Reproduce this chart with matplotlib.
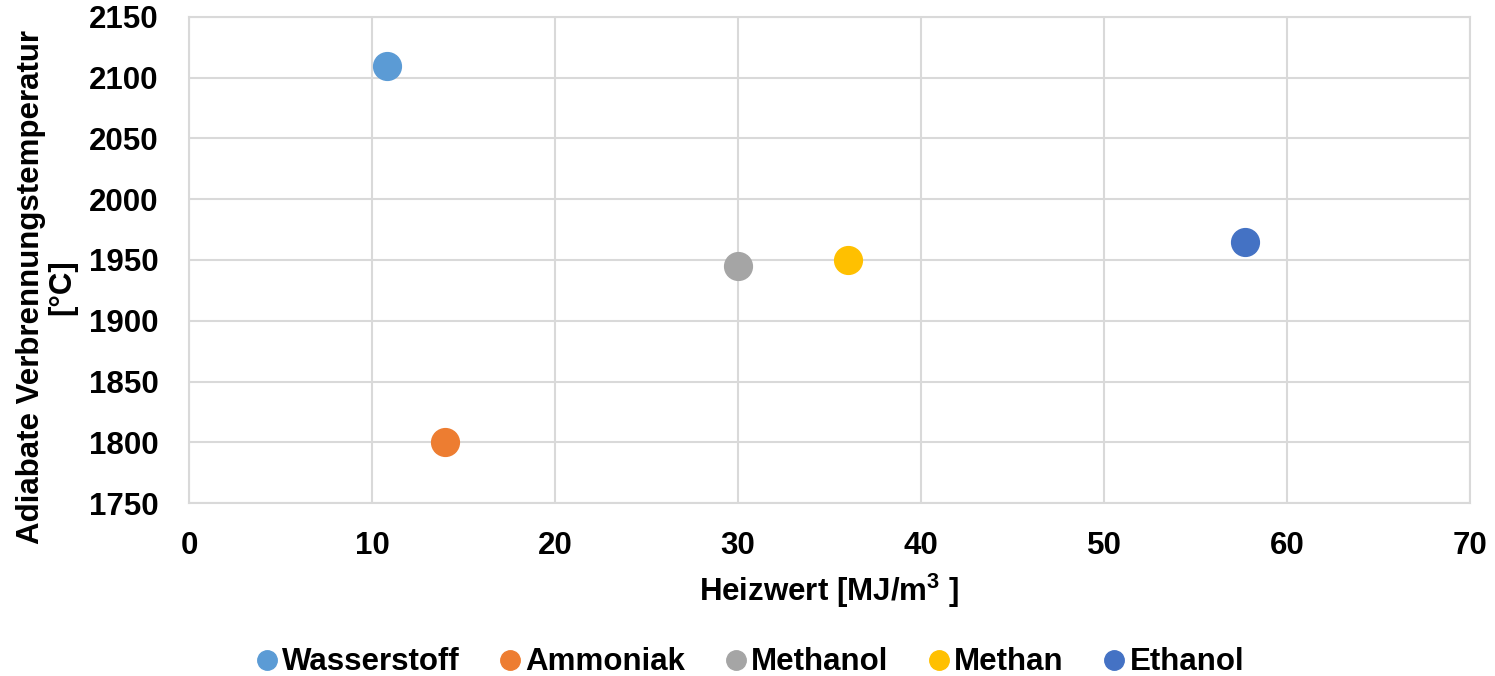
import matplotlib.pyplot as plt
from matplotlib.lines import Line2D

plt.rcParams['font.family'] = ['Liberation Sans', 'DejaVu Sans']
plt.rcParams['font.weight'] = 'bold'
plt.rcParams['axes.labelweight'] = 'bold'
plt.rcParams['mathtext.fontset'] = 'custom'
plt.rcParams['mathtext.bf'] = 'Liberation Sans:bold'
plt.rcParams['mathtext.rm'] = 'Liberation Sans:bold'
plt.rcParams['mathtext.default'] = 'bf'

# Brennstoffe: Heizwert [MJ/m3] und adiabate Verbrennungstemperatur [°C]
fuels = ['Wasserstoff', 'Ammoniak', 'Methanol', 'Methan', 'Ethanol']
heizwert = [10.8, 14.0, 30.0, 36.0, 57.7]
temperatur = [2110, 1800, 1945, 1950, 1965]
colors = ['#5B9BD5', '#ED7D31', '#A5A5A5', '#FFC000', '#4472C4']

fig = plt.figure(figsize=(14.95, 6.76), dpi=100)
ax = fig.add_axes([0.1264, 0.2559, 0.8569, 0.7190])

for name, x, y, c in zip(fuels, heizwert, temperatur, colors):
    ax.plot(x, y, 'o', ms=20, color=c, mec=c, label=name, zorder=3)

ax.set_xlim(0, 70)
ax.set_ylim(1750, 2150)
ax.set_xticks(range(0, 71, 10))
ax.set_yticks(range(1750, 2151, 50))
ax.grid(True, color='#d9d9d9', lw=1.5, zorder=0)
for s in ax.spines.values():
    s.set_color('#d9d9d9')
    s.set_linewidth(1.5)
ax.tick_params(length=0, labelsize=22.5)
ax.tick_params(axis='x', pad=20)
ax.tick_params(axis='y', pad=22)

ax.set_xlabel('Heizwert [MJ/m$^{3}$ ]', fontsize=22.5, labelpad=8)
fig.text(0.031, 0.575, 'Adiabate Verbrennungstemperatur\n[°C]', rotation=90,
         ha='center', va='center', fontsize=22.5, fontweight='bold',
         linespacing=1.05)

handles = [Line2D([], [], ls='none', marker='o', ms=14, color=c) for c in colors]
fig.legend(handles, fuels, loc='center', bbox_to_anchor=(0.5, 0.02),
           ncol=5, frameon=False, fontsize=22.5, handletextpad=0.0,
           columnspacing=1.1, handlelength=1.0)

fig.savefig('out.png', dpi=100)
